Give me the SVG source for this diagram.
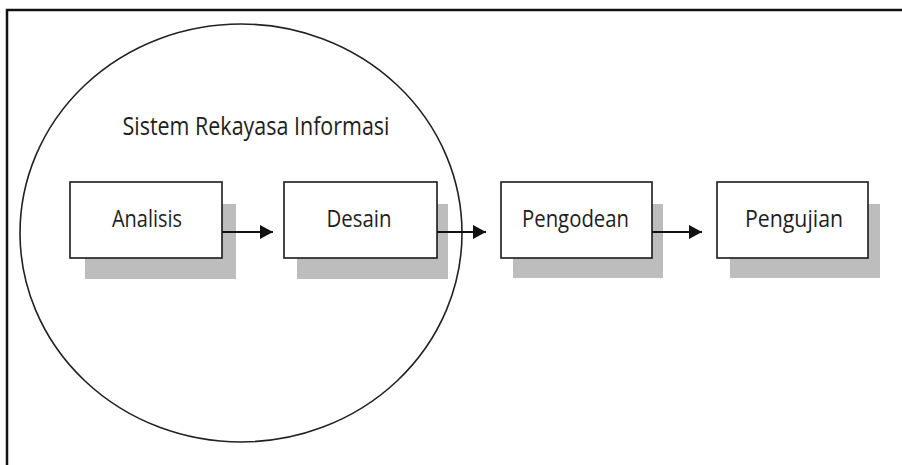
<svg xmlns="http://www.w3.org/2000/svg" width="902" height="465" viewBox="0 0 902 465">
<style>
.frame{fill:none;stroke:#111;stroke-width:2.5}
.shadow{fill:#bdbdbd}
.box{fill:#fff;stroke:#1a1a1a;stroke-width:1.6}
.lbl{font-family:"Open Sans","Liberation Sans",sans-serif;font-size:24px;fill:#1e1e1e;text-anchor:middle}
.conn{stroke:#111;stroke-width:2;fill:none;marker-end:url(#ah)}
.circ{fill:none;stroke:#222;stroke-width:1.6}
</style>
<defs>
<marker id="ah" markerWidth="14" markerHeight="14" refX="13" refY="7" orient="auto" markerUnits="userSpaceOnUse">
<path d="M0,0 L13,7 L0,14 Z" fill="#111"/>
</marker>
</defs>
<rect width="902" height="465" fill="#fff"/>
<path class="frame" d="M7,465 V10 H902"/>
<g id="sistem">
<ellipse class="circ" cx="241" cy="233" rx="221" ry="209"/>
<text class="lbl" x="256" y="135" style="font-size:25px" textLength="267" lengthAdjust="spacingAndGlyphs">Sistem Rekayasa Informasi</text>
</g>
<g id="analisis">
<rect class="shadow" x="85" y="204" width="151" height="75"/>
<rect class="box" x="70" y="182" width="152" height="76"/>
<text class="lbl" x="147" y="227" textLength="70" lengthAdjust="spacingAndGlyphs">Analisis</text>
</g>
<g id="desain">
<rect class="shadow" x="297" y="204" width="151" height="75"/>
<rect class="box" x="284" y="182" width="153" height="76"/>
<text class="lbl" x="359" y="227" textLength="65" lengthAdjust="spacingAndGlyphs">Desain</text>
</g>
<g id="pengodean">
<rect class="shadow" x="513" y="204" width="150" height="74"/>
<rect class="box" x="501" y="182" width="151" height="76"/>
<text class="lbl" x="575.5" y="227" textLength="107" lengthAdjust="spacingAndGlyphs">Pengodean</text>
</g>
<g id="pengujian">
<rect class="shadow" x="730" y="204" width="150" height="74"/>
<rect class="box" x="717" y="182" width="151" height="76"/>
<text class="lbl" x="794" y="227" textLength="98" lengthAdjust="spacingAndGlyphs">Pengujian</text>
</g>
<g id="connectors">
<line class="conn" x1="222" y1="232" x2="273" y2="232"/>
<line class="conn" x1="437" y1="232" x2="486" y2="232"/>
<line class="conn" x1="652" y1="232" x2="702" y2="232"/>
</g>
</svg>
